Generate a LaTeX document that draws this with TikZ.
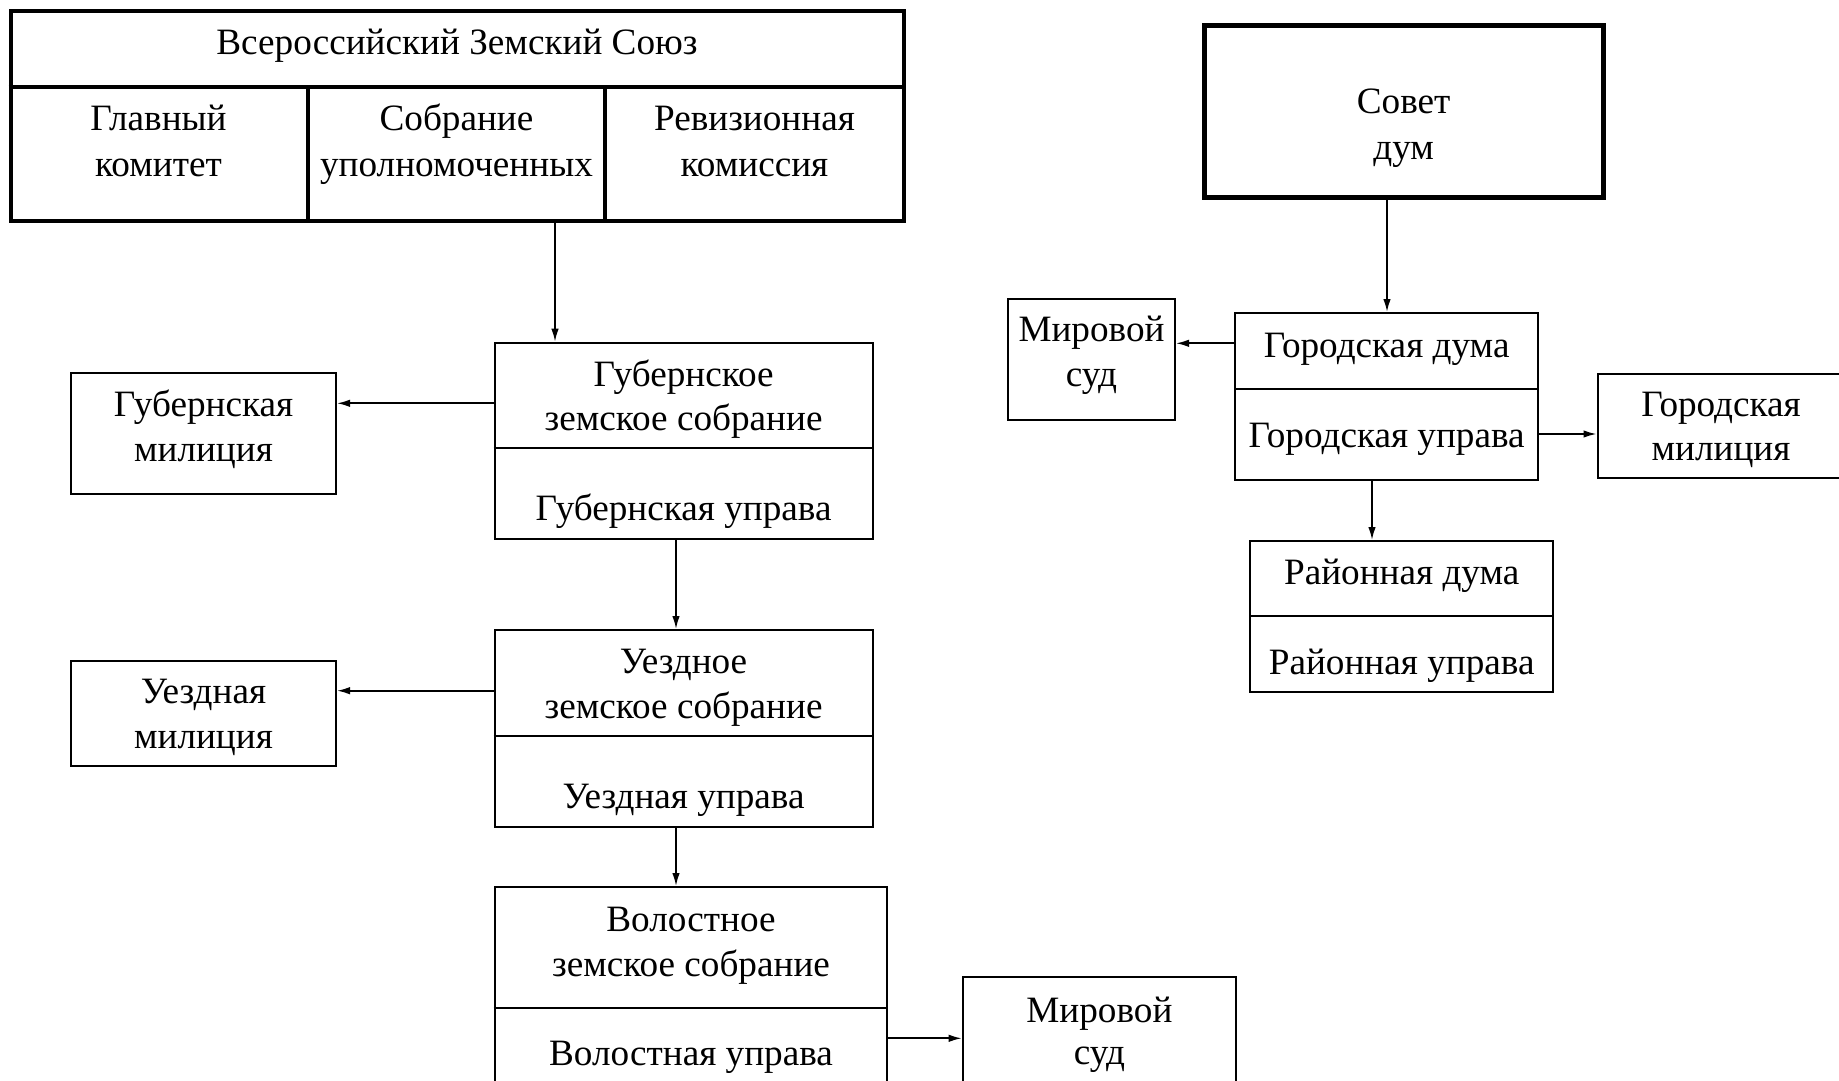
\documentclass[tikz,border=0pt]{standalone}
\usepackage{fontspec}
\setmainfont{Liberation Serif}
\usetikzlibrary{arrows.meta,fit}
\begin{document}
\begin{tikzpicture}[x=1pt,y=-1pt,
  box/.style={draw, line width=2pt, inner sep=0pt},
  heavybox/.style={draw, line width=4pt, inner sep=0pt},
  sepline/.style={line width=2pt},
  heavysep/.style={line width=4pt},
  lbl/.style={anchor=base, inner sep=0pt, font=\fontsize{37.2}{44}\selectfont},
  arr/.style={line width=1.7pt, -{Latex[length=13pt,width=7.5pt]}}]
\useasboundingbox (0,0) rectangle (1839,1081);
\clip (0,0) rectangle (1839,1081);

% ---- All-Russian Zemstvo Union
\node[heavybox, fit={(10.5,11) (904,220.5)}] (vzs) {};
\draw[heavysep] (vzs.west |- 0,87) -- (vzs.east |- 0,87);
\draw[heavysep] (308,87) -- (vzs.south -| 308,0);
\draw[heavysep] (605,87) -- (vzs.south -| 605,0);
\node[lbl] (t0) at (457,55) {Всероссийский Земский Союз};
\node[lbl] (t1a) at (158.5,130) {Главный};
\node[lbl] (t1b) at (158.5,176.5) {комитет};
\node[lbl] (t2a) at (456.5,130) {Собрание};
\node[lbl] (t2b) at (456.5,176.5) {уполномоченных};
\node[lbl] (t3a) at (754.5,130) {Ревизионная};
\node[lbl] (t3b) at (754.5,176.5) {комиссия};

% ---- Gubernia
\node[box, fit={(494.5,342.7) (872.7,539.3)}] (gub) {};
\draw[sepline] (gub.west |- 0,448.3) -- (gub.east |- 0,448.3);
\node[lbl] (g1) at (683.6,386.7) {Губернское};
\node[lbl] (g2) at (683.6,430.5) {земское собрание};
\node[lbl] (g3) at (683.6,520) {Губернская управа};

\node[box, fit={(71,373) (336,494)}] (gubmil) {};
\node[lbl] (gm1) at (203.5,416.7) {Губернская};
\node[lbl] (gm2) at (203.5,461.7) {милиция};

% ---- Uezd
\node[box, fit={(494.5,630) (872.7,826.7)}] (uezd) {};
\draw[sepline] (uezd.west |- 0,736.3) -- (uezd.east |- 0,736.3);
\node[lbl] (u1) at (683.6,673.3) {Уездное};
\node[lbl] (u2) at (683.6,718.3) {земское собрание};
\node[lbl] (u3) at (683.6,808.3) {Уездная управа};

\node[box, fit={(71,660.7) (336,766)}] (uezdmil) {};
\node[lbl] (um1) at (203.5,703.3) {Уездная};
\node[lbl] (um2) at (203.5,748.3) {милиция};

% ---- Volost
\node[box, fit={(494.5,887) (887.3,1130)}] (vol) {};
\draw[sepline] (vol.west |- 0,1007.7) -- (vol.east |- 0,1007.7);
\node[lbl] (v1) at (691,931.7) {Волостное};
\node[lbl] (v2) at (691,976) {земское собрание};
\node[lbl] (v3) at (691,1065) {Волостная управа};

\node[box, fit={(962.7,976.7) (1236,1130)}] (mir2) {};
\node[lbl] (m2a) at (1099.4,1022.7) {Мировой};
\node[lbl] (m2b) at (1099.4,1064) {суд};

% ---- City
\node[draw, line width=5pt, inner sep=0pt, fit={(1204,25.3) (1603,197)}] (sovet) {};
\node[lbl] (s1) at (1403.6,113) {Совет};
\node[lbl] (s2) at (1403.6,159) {дум};

\node[box, fit={(1235.3,313) (1538,480)}] (gorod) {};
\draw[sepline] (gorod.west |- 0,389) -- (gorod.east |- 0,389);
\node[lbl] (c1) at (1386.6,357) {Городская дума};
\node[lbl] (c2) at (1386.6,447) {Городская управа};

\node[box, fit={(1008,298.6) (1175,419.8)}] (mir1) {};
\node[lbl] (m1a) at (1091.5,341) {Мировой};
\node[lbl] (m1b) at (1091.5,386) {суд};

\node[box, fit={(1597.5,373.5) (1850,478)}] (gormil) {};
\node[lbl] (cm1) at (1721,416) {Городская};
\node[lbl] (cm2) at (1721,460) {милиция};

\node[box, fit={(1250.4,541) (1553,692)}] (raion) {};
\draw[sepline] (raion.west |- 0,616) -- (raion.east |- 0,616);
\node[lbl] (r1) at (1401.7,584) {Районная дума};
\node[lbl] (r2) at (1401.7,674) {Районная управа};

% ---- Connectors
\draw[arr] (vzs.south -| 555,0) -- (gub.north -| 555,0);
\draw[arr] (gub.west |- 0,403.3) -- (gubmil.east |- 0,403.3);
\draw[arr] (gub.south -| 676,0) -- (uezd.north -| 676,0);
\draw[arr] (uezd.west |- 0,690.7) -- (uezdmil.east |- 0,690.7);
\draw[arr] (uezd.south -| 676,0) -- (vol.north -| 676,0);
\draw[arr] (vol.east |- 0,1038.3) -- (mir2.west |- 0,1038.3);
\draw[arr] (sovet.south -| 1387,0) -- (gorod.north -| 1387,0);
\draw[arr] (gorod.west |- 0,343.3) -- (mir1.east |- 0,343.3);
\draw[arr] (gorod.east |- 0,434) -- (gormil.west |- 0,434);
\draw[arr] (gorod.south -| 1372,0) -- (raion.north -| 1372,0);
\end{tikzpicture}
\end{document}
